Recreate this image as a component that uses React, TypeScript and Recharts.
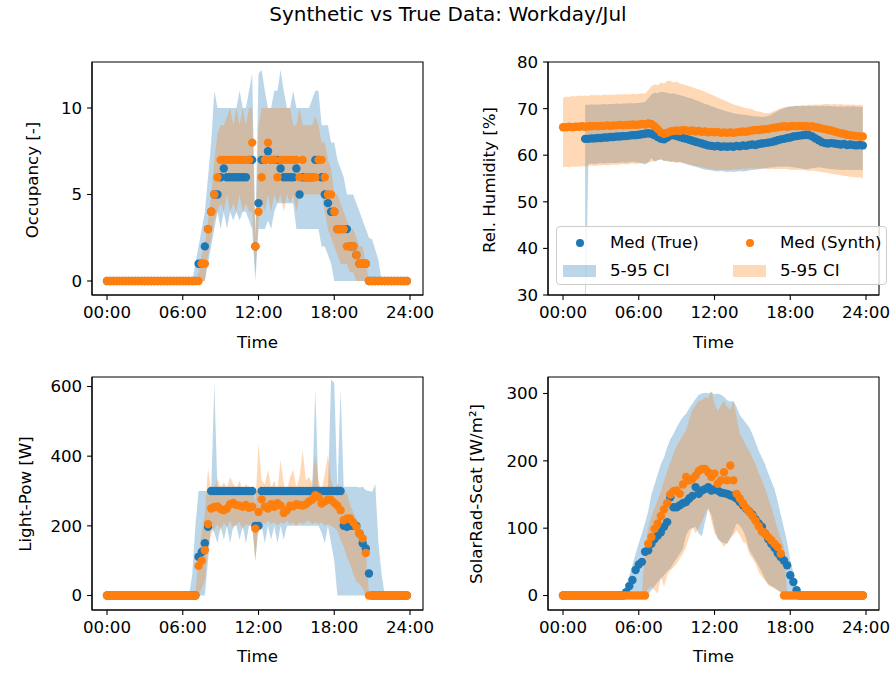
import React from 'react';
import { ComposedChart, Area, Scatter, XAxis, YAxis, ReferenceArea } from 'recharts';

const BLUE = '#1f77b4';
const ORANGE = '#ff7f0e';
const FONT = '"DejaVu Sans", sans-serif';
const FS = 16.67;

// 15-minute grid, hours of day
const hours: number[] = Array.from({ length: 96 }, (_, i) => i / 4);
const timeTicks = [0, 6, 12, 18, 24];
const timeLabels = ['00:00', '06:00', '12:00', '18:00', '24:00'];

// ---------- Occupancy ----------
const occTrue = [
  0, 0, 0, 0, 0, 0, 0, 0, 0, 0,
  0, 0, 0, 0, 0, 0, 0, 0, 0, 0,
  0, 0, 0, 0, 0, 0, 0, 0, 0, 1,
  1, 2, 3, 4, 5, 5, 6, 6.5, 6, 6,
  6, 6, 6, 6, 6, 7, 7, 2, 4.5, 7,
  7, 7.5, 7, 7, 7, 6.5, 6, 6, 6, 6,
  6.5, 5, 6, 6, 6, 6, 7, 7, 6, 5,
  4.5, 4, 4, 3, 3, 3, 3, 2, 2, 1.5,
  1, 1, 1, 0, 0, 0, 0, 0, 0, 0,
  0, 0, 0, 0, 0, 0,
];
const occSynth = [
  0, 0, 0, 0, 0, 0, 0, 0, 0, 0,
  0, 0, 0, 0, 0, 0, 0, 0, 0, 0,
  0, 0, 0, 0, 0, 0, 0, 0, 0, 0,
  1, 1, 3, 4, 5, 6, 7, 7, 7, 7,
  7, 7, 7, 7, 7, 7, 8, 2, 4, 6,
  7, 8, 7, 7, 6, 7, 7, 7, 7, 7,
  7, 6, 7, 6, 6, 6, 6, 7, 7, 6,
  5, 5, 4, 3, 3, 3, 2, 2, 2, 1.5,
  1, 1, 1, 0, 0, 0, 0, 0, 0, 0,
  0, 0, 0, 0, 0, 0,
];
const occTrueLo = [
  0, 0, 0, 0, 0, 0, 0, 0, 0, 0,
  0, 0, 0, 0, 0, 0, 0, 0, 0, 0,
  0, 0, 0, 0, 0, 0, 0, 0, 0, 0,
  0, 0, 1, 2, 3, 4, 3, 4, 3, 4,
  3.5, 4, 3.5, 4, 4, 3.5, 3, 0, 3, 3,
  3, 3.5, 3, 4, 4.5, 4.5, 4.5, 4.5, 4.5, 4.5,
  3, 3, 3, 3, 3, 3, 3, 3, 2, 2,
  1.5, 1, 0, 0, 0, 0, 0, 0, 0, 0,
  0, 0, 0, 0, 0, 0, 0, 0, 0, 0,
  0, 0, 0, 0, 0, 0,
];
const occTrueHi = [
  0, 0, 0, 0, 0, 0, 0, 0, 0, 0,
  0, 0, 0, 0, 0, 0, 0, 0, 0, 0,
  0, 0, 0, 0, 0, 0, 0, 0, 1, 2,
  3, 4, 6, 8, 11, 10, 10, 10, 10, 10,
  10, 10, 11, 10, 10, 11, 12, 2.5, 12, 12.2,
  11, 10, 10, 11, 11, 12.2, 11, 10, 10, 11,
  10, 10, 10, 10, 10, 10.5, 11, 11, 9, 9,
  9, 8, 8, 7, 6.5, 6, 5, 5, 5, 4.5,
  4, 3.5, 3, 2.5, 2.4, 1.8, 1.2, 0, 0, 0,
  0, 0, 0, 0, 0, 0,
];
const occSynthLo = [
  0, 0, 0, 0, 0, 0, 0, 0, 0, 0,
  0, 0, 0, 0, 0, 0, 0, 0, 0, 0,
  0, 0, 0, 0, 0, 0, 0, 0, 0, 0,
  0, 0, 1.5, 2.5, 3.5, 4, 4.5, 4, 5, 4,
  4.5, 4, 5, 4, 4.5, 4, 4, 0.5, 3.5, 4.5,
  4, 5, 4, 5, 4.5, 5, 4, 5, 4.5, 5,
  4, 5, 5, 5, 5, 5, 5, 5, 5, 4,
  3, 2.5, 2, 1.5, 1, 1, 1, 0.5, 0.5, 0,
  0, 0, 0, 0, 0, 0, 0, 0, 0, 0,
  0, 0, 0, 0, 0, 0,
];
const occSynthHi = [
  0, 0, 0, 0, 0, 0, 0, 0, 0, 0,
  0, 0, 0, 0, 0, 0, 0, 0, 0, 0,
  0, 0, 0, 0, 0, 0, 0, 0, 0, 0.5,
  1.5, 2, 3.5, 5, 7, 8.5, 9, 9, 9.5, 10,
  9, 10, 9, 10, 9, 10, 10, 2.5, 9, 10,
  10, 10, 10, 10, 10, 10, 10, 10, 10, 9,
  9, 10, 9, 9, 9, 9, 9.5, 9, 8, 8,
  7, 6.5, 5, 5, 4.5, 4, 3.5, 3, 3, 2.5,
  2, 2, 1, 0, 0, 0, 0, 0, 0, 0,
  0, 0, 0, 0, 0, 0,
];

// ---------- Relative humidity ----------
const N = null;
const humTrue = [
  N, N, N, N, N, N, N, 63.5, 63.5, 63.6,
  63.6, 63.7, 63.7, 63.8, 63.8, 63.9, 63.9, 64.0, 64.0, 64.1,
  64.1, 64.2, 64.3, 64.3, 64.4, 64.5, 64.6, 64.7, 64.6, 64.3,
  63.9, 63.5, 63.4, 63.8, 64.2, 64.3, 64.1, 63.9, 63.7, 63.5,
  63.3, 63.1, 62.9, 62.7, 62.5, 62.3, 62.1, 62.0, 61.9, 62.0,
  61.8, 61.9, 61.8, 61.9, 61.8, 62.0, 61.9, 62.1, 62.0, 62.2,
  62.3, 62.2, 62.4, 62.5, 62.6, 62.7, 62.8, 63.0, 63.2, 63.4,
  63.5, 63.7, 63.8, 64.0, 64.1, 64.2, 64.3, 64.4, 64.3, 64.0,
  63.6, 63.2, 62.8, 62.6, 62.5, 62.6, 62.5, 62.4, 62.3, 62.4,
  62.2, 62.3, 62.2, 62.1, 62.2, 62.1,
];
const humSynth = [
  66.0, 66.0, 66.1, 66.0, 66.1, 66.1, 66.2, 66.1, 66.2, 66.2,
  66.3, 66.2, 66.3, 66.3, 66.4, 66.3, 66.4, 66.4, 66.5, 66.4,
  66.5, 66.5, 66.6, 66.5, 66.6, 66.7, 66.6, 66.8, 66.7, 66.2,
  65.6, 64.9, 64.6, 64.8, 65.1, 65.2, 65.3, 65.2, 65.4, 65.3,
  65.2, 65.3, 65.1, 65.2, 65.0, 65.1, 64.9, 65.0, 64.9, 65.0,
  64.8, 64.9, 64.8, 64.9, 64.8, 64.9, 65.0, 65.1, 65.0, 65.2,
  65.3, 65.4, 65.4, 65.5, 65.6, 65.6, 65.8, 65.9, 66.0, 66.1,
  66.2, 66.1, 66.2, 66.3, 66.2, 66.3, 66.2, 66.3, 66.1, 66.2,
  66.0, 65.9, 65.7, 65.6, 65.4, 65.3, 65.1, 64.9, 64.7, 64.6,
  64.4, 64.3, 64.2, 64.1, 64.0, 64.0,
];
const humTrueLo = [
  N, N, N, N, N, N, N, 20, 58.1, 58.2,
  58.1, 58.2, 58.3, 58.2, 58.3, 58.4, 58.3, 58.4, 58.4, 58.5,
  58.4, 58.5, 58.6, 58.5, 58.4, 58.2, 58.0, 58.4, 59.4, 58.6,
  58.9, 59.2, 58.7, 58.8, 58.6, 58.7, 58.5, 58.6, 58.3, 58.1,
  57.9, 57.7, 57.5, 57.3, 57.1, 56.9, 56.8, 56.7, 56.6, 56.5,
  56.6, 56.5, 56.4, 56.5, 56.4, 56.5, 56.6, 56.5, 56.6, 56.7,
  56.8, 56.9, 57.0, 57.1, 57.2, 57.3, 57.4, 57.4, 57.5, 57.6,
  57.5, 57.6, 57.5, 57.4, 57.3, 57.2, 57.1, 57.0, 57.1, 57.2,
  57.3, 57.4, 57.3, 57.2, 57.1, 57.0, 57.0, 56.9, 56.9, 56.8,
  56.9, 56.8, 56.9, 56.8, 56.9, 56.8,
];
const humTrueHi = [
  N, N, N, N, N, N, N, 70.8, 70.8, 70.9,
  70.8, 70.9, 70.9, 71.0, 70.9, 71.0, 71.0, 71.1, 71.0, 71.1,
  71.1, 71.2, 71.1, 71.2, 71.2, 71.3, 71.4, 72.2, 73.0, 73.4,
  73.3, 73.6, 73.5, 73.4, 73.2, 73.3, 73.1, 72.9, 72.7, 72.5,
  72.3, 72.1, 71.8, 71.6, 71.3, 71.0, 70.8, 70.5, 70.3, 70.0,
  69.8, 69.6, 69.4, 69.2, 69.0, 68.9, 68.8, 68.7, 68.6, 68.5,
  68.4, 68.3, 68.3, 68.2, 68.3, 68.4, 68.7, 69.1, 69.5, 69.8,
  70.1, 70.3, 70.5, 70.5, 70.6, 70.5, 70.6, 70.5, 70.6, 70.5,
  70.6, 70.5, 70.6, 70.5, 70.6, 70.5, 70.5, 70.4, 70.5, 70.4,
  70.5, 70.4, 70.5, 70.4, 70.4, 70.4,
];
const humSynthLo = [
  57.4, 57.5, 57.4, 57.6, 57.5, 57.6, 57.7, 57.6, 57.7, 57.8,
  57.7, 57.8, 57.8, 57.9, 57.8, 57.9, 58.0, 57.9, 58.0, 58.1,
  58.0, 58.1, 58.2, 58.1, 58.2, 58.3, 58.4, 58.5, 58.6, 58.8,
  58.9, 59.0, 58.9, 58.7, 58.6, 58.5, 58.4, 58.5, 58.3, 58.2,
  58.0, 57.9, 57.7, 57.6, 57.4, 57.3, 57.1, 57.0, 56.9, 56.8,
  56.9, 56.8, 56.9, 56.8, 57.0, 56.9, 57.0, 57.1, 57.0, 57.2,
  57.1, 57.2, 57.1, 57.2, 57.1, 57.0, 57.1, 57.0, 57.1, 57.0,
  57.1, 57.0, 56.9, 56.9, 56.8, 56.9, 56.8, 56.7, 56.6, 56.7,
  56.6, 56.5, 56.4, 56.3, 56.2, 56.0, 55.9, 55.8, 55.7, 55.6,
  55.5, 55.4, 55.3, 55.2, 55.2, 55.1,
];
const humSynthHi = [
  72.3, 72.6, 72.5, 72.7, 72.6, 72.8, 72.7, 72.8, 72.7, 72.9,
  72.8, 72.9, 72.8, 73.0, 72.9, 73.0, 72.9, 73.0, 73.1, 73.0,
  73.1, 73.0, 73.2, 73.1, 73.2, 73.3, 73.2, 74.0, 74.8, 75.2,
  75.0, 75.6, 75.4, 75.9, 76.0, 75.6, 75.8, 75.4, 75.2, 75.0,
  74.8, 74.6, 74.3, 74.1, 73.9, 73.6, 73.3, 73.0, 72.7, 72.4,
  72.1, 71.8, 71.5, 71.2, 70.9, 70.7, 70.5, 70.3, 70.1, 70.0,
  69.8, 69.5, 69.4, 69.2, 69.0, 69.0, 69.2, 69.5, 69.8, 70.1,
  70.3, 70.4, 70.4, 70.5, 70.6, 70.6, 70.7, 70.7, 70.8, 70.8,
  70.9, 70.8, 70.9, 71.0, 71.0, 70.9, 71.0, 70.9, 71.0, 70.8,
  70.9, 70.8, 70.9, 70.7, 70.8, 70.7,
];

// ---------- Light power ----------
const lightTrue = [
  0, 0, 0, 0, 0, 0, 0, 0, 0, 0,
  0, 0, 0, 0, 0, 0, 0, 0, 0, 0,
  0, 0, 0, 0, 0, 0, 0, 0, 0, 111,
  125, 150, 197, 300, 300, 300, 300, 300, 300, 300,
  300, 300, 300, 300, 300, 300, 300, 200, 200, 300,
  300, 300, 300, 300, 300, 300, 300, 300, 300, 300,
  300, 300, 300, 300, 300, 300, 300, 300, 300, 300,
  300, 300, 300, 300, 300, 200, 197, 200, 200, 200,
  178, 150, 135, 63, 0, 0, 0, 0, 0, 0,
  0, 0, 0, 0, 0, 0,
];
const lightSynth = [
  0, 0, 0, 0, 0, 0, 0, 0, 0, 0,
  0, 0, 0, 0, 0, 0, 0, 0, 0, 0,
  0, 0, 0, 0, 0, 0, 0, 0, 0, 85,
  100, 130, 205, 250, 254, 256, 248, 245, 250, 262,
  266, 260, 258, 255, 260, 252, 255, 192, 240, 276,
  255, 250, 262, 255, 265, 258, 237, 245, 258, 256,
  262, 260, 258, 262, 270, 275, 288, 283, 264, 270,
  276, 274, 266, 258, 245, 216, 221, 221, 210, 197,
  178, 164, 122, 0, 0, 0, 0, 0, 0, 0,
  0, 0, 0, 0, 0, 0,
];
const lightTrueLo = [
  0, 0, 0, 0, 0, 0, 0, 0, 0, 0,
  0, 0, 0, 0, 0, 0, 0, 0, 0, 0,
  0, 0, 0, 0, 0, 0, 0, 0, 0, 0,
  0, 0, 100, 200, 180, 150, 200, 160, 200, 150,
  200, 200, 160, 200, 150, 200, 200, 100, 200, 200,
  150, 200, 160, 200, 150, 200, 160, 200, 200, 200,
  200, 200, 200, 200, 200, 200, 200, 200, 180, 150,
  200, 150, 100, 0, 0, 0, 0, 0, 0, 0,
  0, 0, 0, 0, 0, 0, 0, 0, 0, 0,
  0, 0, 0, 0, 0, 0,
];
const lightTrueHi = [
  0, 0, 0, 0, 0, 0, 0, 0, 0, 0,
  0, 0, 0, 0, 0, 0, 0, 0, 0, 0,
  0, 0, 0, 0, 0, 0, 0, 60, 200, 300,
  300, 300, 300, 300, 610, 300, 300, 300, 305, 300,
  300, 310, 300, 300, 300, 305, 300, 300, 300, 300,
  300, 300, 300, 300, 300, 300, 300, 300, 300, 300,
  300, 300, 300, 300, 300, 300, 590, 300, 300, 300,
  300, 620, 610, 300, 590, 312, 312, 312, 312, 312,
  310, 312, 302, 300, 298, 320, 150, 60, 0, 0,
  0, 0, 0, 0, 0, 0,
];
const lightSynthLo = [
  0, 0, 0, 0, 0, 0, 0, 0, 0, 0,
  0, 0, 0, 0, 0, 0, 0, 0, 0, 0,
  0, 0, 0, 0, 0, 0, 0, 0, 0, 0,
  20, 44, 140, 178, 190, 205, 185, 210, 195, 215,
  190, 205, 210, 190, 205, 200, 210, 100, 200, 210,
  205, 215, 205, 210, 200, 210, 205, 215, 205, 210,
  200, 210, 205, 210, 215, 205, 210, 205, 210, 200,
  205, 200, 195, 185, 159, 140, 111, 90, 63, 40,
  34, 20, 0, 0, 0, 0, 0, 0, 0, 0,
  0, 0, 0, 0, 0, 0,
];
const lightSynthHi = [
  0, 0, 0, 0, 0, 0, 0, 0, 0, 0,
  0, 0, 0, 0, 0, 0, 0, 0, 0, 0,
  0, 0, 0, 0, 0, 0, 0, 0, 0, 120,
  180, 235, 365, 302, 310, 336, 310, 325, 310, 340,
  320, 310, 330, 300, 320, 310, 300, 264, 436, 330,
  320, 360, 310, 330, 300, 390, 320, 300, 340, 360,
  310, 340, 417, 330, 340, 320, 405, 330, 300, 350,
  405, 330, 300, 320, 312, 300, 293, 260, 240, 220,
  197, 170, 130, 0, 0, 0, 0, 0, 0, 0,
  0, 0, 0, 0, 0, 0,
];

// ---------- Scattered solar radiation ----------
const solarTrue = [
  0, 0, 0, 0, 0, 0, 0, 0, 0, 0,
  0, 0, 0, 0, 0, 0, 0, 0, 0, 0,
  5, 14, 23, 38, 46, 50, 65, 67, 77, 84,
  89, 94, 102, 109, 146, 131, 131, 134, 137, 139,
  144, 148, 161, 151, 156, 158, 161, 156, 158, 156,
  153, 152, 151, 149, 147, 144, 139, 134, 129, 125,
  120, 113, 107, 102, 92, 84, 77, 71, 63, 57,
  52, 45, 30, 20, 8, 0, 0, 0, 0, 0,
  0, 0, 0, 0, 0, 0, 0, 0, 0, 0,
  0, 0, 0, 0, 0, 0,
];
const solarSynth = [
  0, 0, 0, 0, 0, 0, 0, 0, 0, 0,
  0, 0, 0, 0, 0, 0, 0, 0, 0, 0,
  0, 0, 0, 0, 0, 0, 0, 77, 87, 99,
  107, 118, 128, 137, 150, 155, 156, 151, 165, 176,
  171, 173, 178, 185, 188, 188, 183, 176, 181, 166,
  171, 183, 171, 193, 171, 151, 144, 137, 130, 124,
  118, 111, 103, 95, 92, 87, 82, 77, 72, 62,
  0, 0, 0, 0, 0, 0, 0, 0, 0, 0,
  0, 0, 0, 0, 0, 0, 0, 0, 0, 0,
  0, 0, 0, 0, 0, 0,
];
const solarTrueLo = [
  0, 0, 0, 0, 0, 0, 0, 0, 0, 0,
  0, 0, 0, 0, 0, 0, 0, 0, 0, 0,
  0, 0, 0, 0, 0, 0, 0, 2, 8, 14,
  20, 25, 30, 36, 40, 48, 55, 62, 70, 90,
  98, 100, 102, 92, 88, 110, 128, 120, 100, 84,
  80, 78, 77, 85, 95, 107, 104, 97, 85, 68,
  60, 52, 44, 35, 24, 18, 14, 12, 8, 5,
  3, 0, 0, 0, 0, 0, 0, 0, 0, 0,
  0, 0, 0, 0, 0, 0, 0, 0, 0, 0,
  0, 0, 0, 0, 0, 0,
];
const solarTrueHi = [
  0, 0, 0, 0, 0, 0, 0, 0, 0, 0,
  0, 0, 0, 0, 0, 0, 0, 0, 0, 0,
  15, 30, 45, 62, 78, 92, 108, 125, 150, 165,
  180, 195, 205, 220, 232, 240, 250, 258, 265, 270,
  278, 285, 292, 298, 300, 301, 300, 302, 299, 300,
  298, 295, 290, 288, 289, 280, 268, 262, 256, 250,
  240, 228, 215, 205, 195, 182, 170, 158, 140, 120,
  100, 80, 52, 35, 15, 5, 0, 0, 0, 0,
  0, 0, 0, 0, 0, 0, 0, 0, 0, 0,
  0, 0, 0, 0, 0, 0,
];
const solarSynthLo = [
  0, 0, 0, 0, 0, 0, 0, 0, 0, 0,
  0, 0, 0, 0, 0, 0, 0, 0, 0, 0,
  0, 0, 0, 0, 0, 0, 0, 10, 13, 8,
  3, 28, 13, 30, 37, 42, 47, 55, 62, 72,
  87, 102, 92, 100, 110, 121, 131, 111, 92, 87,
  80, 72, 78, 85, 90, 97, 90, 80, 77, 62,
  55, 47, 35, 28, 23, 15, 13, 10, 8, 5,
  3, 0, 0, 0, 0, 0, 0, 0, 0, 0,
  0, 0, 0, 0, 0, 0, 0, 0, 0, 0,
  0, 0, 0, 0, 0, 0,
];
const solarSynthHi = [
  0, 0, 0, 0, 0, 0, 0, 0, 0, 0,
  0, 0, 0, 0, 0, 0, 0, 0, 0, 0,
  0, 0, 0, 0, 0, 0, 72, 100, 118, 130,
  142, 155, 170, 185, 198, 210, 222, 230, 238, 245,
  262, 275, 282, 289, 290, 294, 293, 304, 285, 274,
  282, 289, 280, 276, 289, 265, 240, 232, 222, 215,
  205, 195, 182, 171, 160, 145, 131, 115, 98, 85,
  72, 0, 0, 0, 0, 0, 0, 0, 0, 0,
  0, 0, 0, 0, 0, 0, 0, 0, 0, 0,
  0, 0, 0, 0, 0, 0,
];

type Num = number | null;

function build(tm: Num[], sm: Num[], tlo: Num[], thi: Num[], slo: Num[], shi: Num[]) {
  return hours.map((t, i) => ({
    t,
    tm: tm[i],
    sm: sm[i],
    tb: tlo[i] == null || thi[i] == null ? null : [tlo[i], thi[i]],
    sb: slo[i] == null || shi[i] == null ? null : [slo[i], shi[i]],
  }));
}

const occRows = build(occTrue, occSynth, occTrueLo, occTrueHi, occSynthLo, occSynthHi);
const humRows = build(humTrue, humSynth, humTrueLo, humTrueHi, humSynthLo, humSynthHi);
const lightRows = build(lightTrue, lightSynth, lightTrueLo, lightTrueHi, lightSynthLo, lightSynthHi);
const solarRows = build(solarTrue, solarSynth, solarTrueLo, solarTrueHi, solarSynthLo, solarSynthHi);

const X_DOMAIN: [number, number] = [-1.19, 25.03];
const FRAME_W = 331;
const FRAME_H = 233;
const ML = 60;
const MT = 15;
const MR = 30;
const XH = 40;

const makeDot = (color: string, key: string) => (props: any) => {
  const { cx, cy, payload } = props;
  if (!payload || payload[key] == null || cx == null || cy == null || Number.isNaN(cx) || Number.isNaN(cy)) {
    return <g />;
  }
  return <circle cx={cx} cy={cy} r={4.2} fill={color} />;
};

const fmtTime = (v: number) => timeLabels[timeTicks.indexOf(v)] ?? String(v);

function Panel(props: {
  left: number;
  top: number;
  rows: any[];
  yDomain: [number, number];
  yTicks: number[];
}) {
  const { left, top, rows, yDomain, yTicks } = props;
  const tickStyle = { fill: '#000', fontSize: FS, fontFamily: FONT };
  const lineStyle = { stroke: '#000', strokeWidth: 1.1 };
  return (
    <div style={{ position: 'absolute', left: left - ML, top: top - MT }}>
      <ComposedChart
        width={ML + FRAME_W + MR}
        height={MT + FRAME_H + XH}
        data={rows}
        margin={{ top: MT, right: MR, left: 0, bottom: 0 }}
      >
        <XAxis
          dataKey="t"
          type="number"
          domain={X_DOMAIN}
          ticks={timeTicks}
          tickFormatter={fmtTime}
          allowDataOverflow
          height={XH}
          tickSize={4.9}
          tickMargin={6.5}
          tick={tickStyle}
          axisLine={lineStyle}
          tickLine={lineStyle}
          interval={0}
        />
        <YAxis
          type="number"
          domain={yDomain}
          ticks={yTicks}
          allowDataOverflow
          width={ML}
          tickSize={4.9}
          tickMargin={4.9}
          tick={tickStyle}
          axisLine={lineStyle}
          tickLine={lineStyle}
          interval={0}
        />
        <Area
          type="linear"
          dataKey="tb"
          fill={BLUE}
          fillOpacity={0.3}
          stroke="none"
          dot={false}
          activeDot={false}
          isAnimationActive={false}
        />
        <Area
          type="linear"
          dataKey="sb"
          fill={ORANGE}
          fillOpacity={0.3}
          stroke="none"
          dot={false}
          activeDot={false}
          isAnimationActive={false}
        />
        <Scatter dataKey="tm" fill={BLUE} shape={makeDot(BLUE, 'tm')} isAnimationActive={false} />
        <Scatter dataKey="sm" fill={ORANGE} shape={makeDot(ORANGE, 'sm')} isAnimationActive={false} />
        <ReferenceArea
          x1={X_DOMAIN[0]}
          x2={X_DOMAIN[1]}
          y1={yDomain[0]}
          y2={yDomain[1]}
          fill="none"
          fillOpacity={0}
          stroke="#000"
          strokeWidth={1.1}
          ifOverflow="visible"
        />
      </ComposedChart>
    </div>
  );
}

function YLabel({ x, y, text }: { x: number; y: number; text: string }) {
  return (
    <div
      style={{
        position: 'absolute',
        left: x,
        top: y,
        transform: 'translate(-50%, -50%) rotate(-90deg)',
        whiteSpace: 'nowrap',
        fontSize: FS,
        lineHeight: 1,
        fontFamily: FONT,
        color: '#000',
      }}
    >
      {text}
    </div>
  );
}

function XLabel({ x, y, text }: { x: number; y: number; text: string }) {
  return (
    <div
      style={{
        position: 'absolute',
        left: x,
        top: y,
        transform: 'translate(-50%, -50%)',
        whiteSpace: 'nowrap',
        fontSize: FS,
        lineHeight: 1,
        fontFamily: FONT,
        color: '#000',
      }}
    >
      {text}
    </div>
  );
}

function Legend() {
  const txt = { position: 'absolute' as const, fontSize: FS, lineHeight: 1, fontFamily: FONT, color: '#000', whiteSpace: 'nowrap' as const, transform: 'translateY(-50%)' };
  const dot = (c: string, x: number, y: number) => (
    <div style={{ position: 'absolute', left: x - 4.2, top: y - 4.2, width: 8.4, height: 8.4, borderRadius: '50%', background: c }} />
  );
  return (
    <div
      style={{
        position: 'absolute',
        left: 556,
        top: 226,
        width: 331,
        height: 59,
        boxSizing: 'border-box',
        border: '1px solid #cccccc',
        borderRadius: 4,
        background: 'rgba(255,255,255,0.8)',
      }}
    >
      {dot(BLUE, 23, 16)}
      <div style={{ ...txt, left: 53, top: 16 }}>Med (True)</div>
      {dot(ORANGE, 193, 16)}
      <div style={{ ...txt, left: 223, top: 16 }}>Med (Synth)</div>
      <div style={{ position: 'absolute', left: 6, top: 38, width: 33, height: 12, background: 'rgba(31,119,180,0.3)' }} />
      <div style={{ ...txt, left: 53, top: 44 }}>5-95 CI</div>
      <div style={{ position: 'absolute', left: 176, top: 38, width: 33, height: 12, background: 'rgba(255,127,14,0.3)' }} />
      <div style={{ ...txt, left: 223, top: 44 }}>5-95 CI</div>
    </div>
  );
}

export default function App() {
  return (
    <div
      style={{
        position: 'absolute',
        left: 0,
        top: 0,
        width: 896,
        height: 673,
        background: '#fff',
        fontFamily: FONT,
        overflow: 'hidden',
      }}
    >
      <div
        style={{
          position: 'absolute',
          left: 0,
          width: 896,
          top: 14,
          transform: 'translateY(-50%)',
          textAlign: 'center',
          fontSize: 20,
          lineHeight: 1,
          fontFamily: FONT,
          color: '#000',
        }}
      >
        Synthetic vs True Data: Workday/Jul
      </div>

      <Panel left={92} top={62} rows={occRows} yDomain={[-0.81, 12.66]} yTicks={[0, 5, 10]} />
      <Panel left={548} top={62} rows={humRows} yDomain={[30, 80]} yTicks={[30, 40, 50, 60, 70, 80]} />
      <Panel left={92} top={376.5} rows={lightRows} yDomain={[-41.6, 627.3]} yTicks={[0, 200, 400, 600]} />
      <Panel left={548} top={376.5} rows={solarRows} yDomain={[-21.5, 324.5]} yTicks={[0, 100, 200, 300]} />

      <Legend />

      <YLabel x={33} y={180} text="Occupancy [-]" />
      <YLabel x={490} y={180} text="Rel. Humidity [%]" />
      <YLabel x={26} y={494} text="Light-Pow [W]" />
      <YLabel x={477} y={494} text="SolarRad-Scat [W/m²]" />

      <XLabel x={257.5} y={343} text="Time" />
      <XLabel x={713.5} y={343} text="Time" />
      <XLabel x={257.5} y={657} text="Time" />
      <XLabel x={713.5} y={657} text="Time" />
    </div>
  );
}
